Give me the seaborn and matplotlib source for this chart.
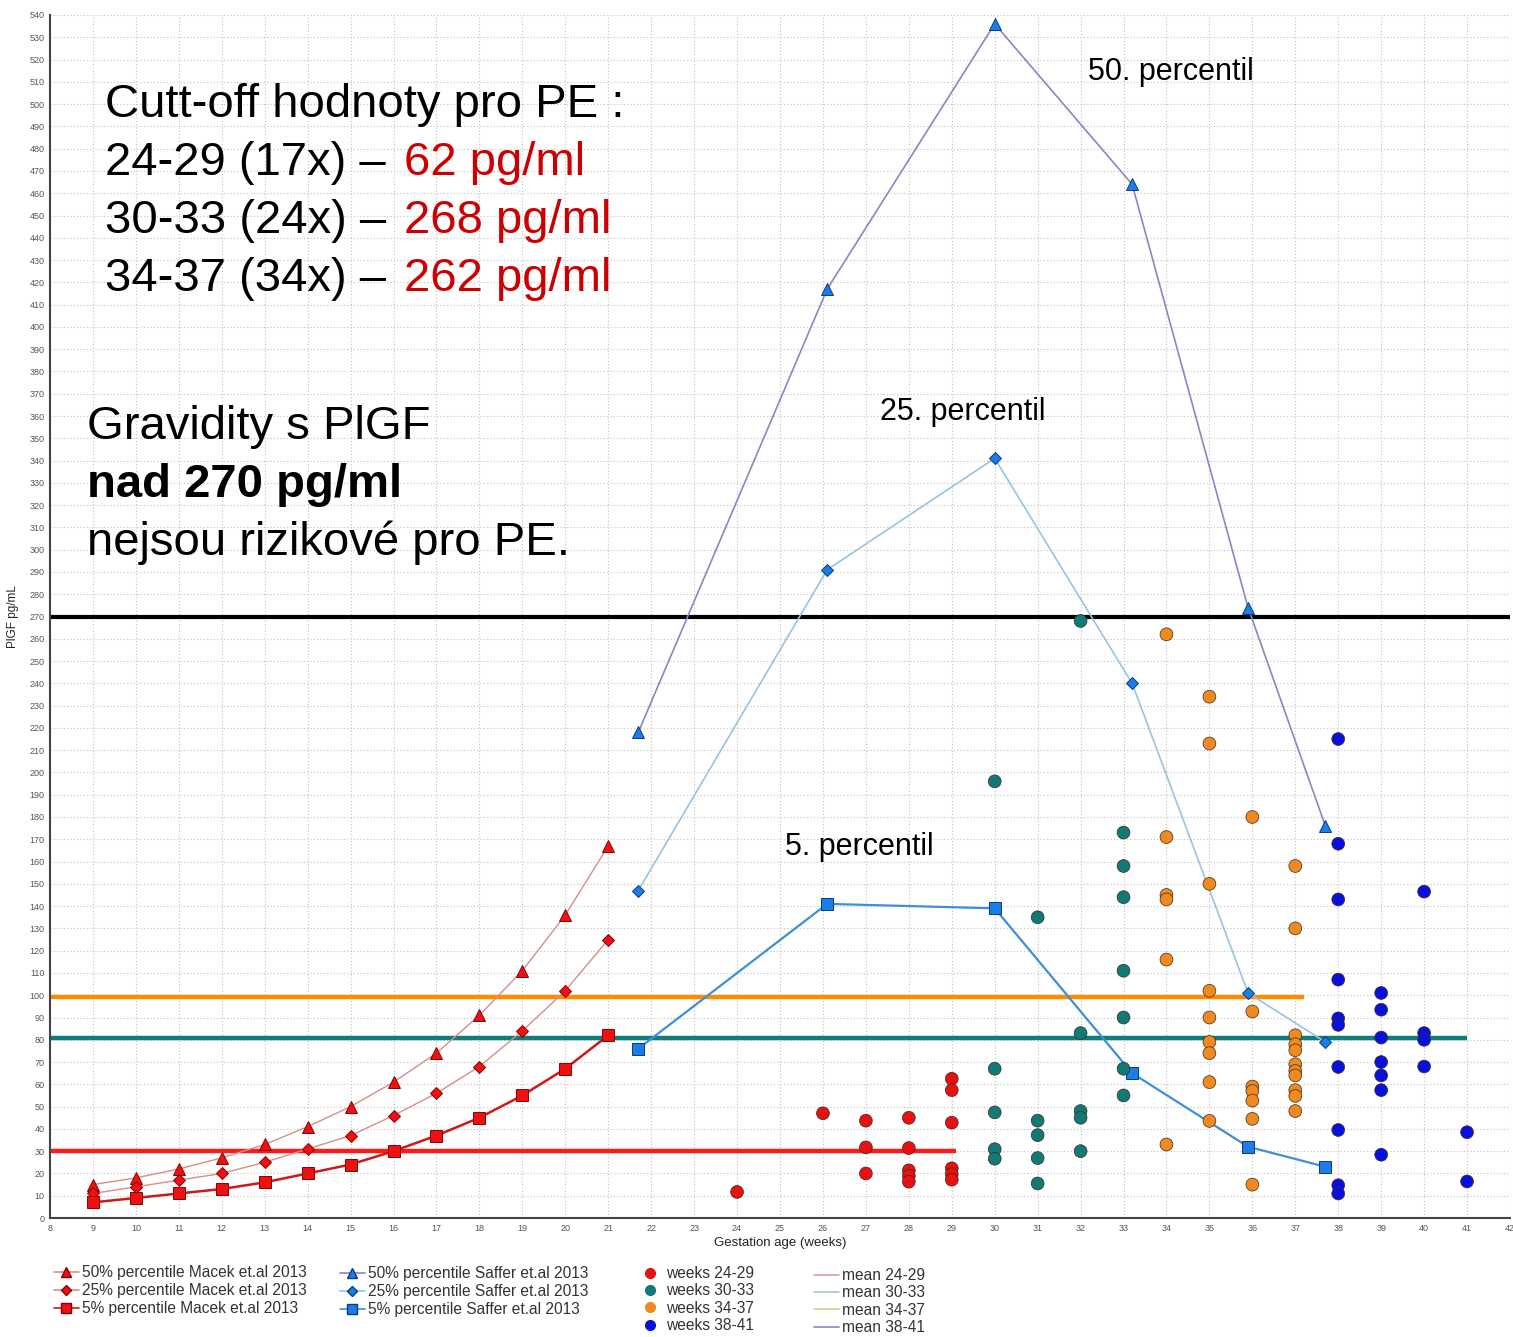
import matplotlib
matplotlib.use("Agg")
import matplotlib.pyplot as plt
from matplotlib.lines import Line2D
import seaborn as sns
import pandas as pd

# --- data -------------------------------------------------------------
macek_weeks = list(range(9, 22))
macek_p50 = [15, 18, 22, 27, 33, 41, 50, 61, 74, 91, 111, 136, 167]
macek_p25 = [11, 14, 17, 20, 25, 31, 37, 46, 56, 68, 84, 102, 125]
macek_p5 = [7, 9, 11, 13, 16, 20, 24, 30, 37, 45, 55, 67, 82]

saffer_weeks = [21.7, 26.1, 30.0, 33.2, 35.9, 37.7]
saffer_p50 = [218, 417, 536, 464, 274, 176]
saffer_p25 = [147, 291, 341, 240, 101, 79]
saffer_p5 = [76, 141, 139, 65, 32, 23]

w24_29_x = [24, 26, 27, 27, 27, 28, 28, 28, 28, 28, 29, 29, 29, 29, 29, 29]
w24_29_y = [11.7, 47, 43.7, 31.7, 20, 45, 31.4, 21.4, 18.9, 16.3, 62.5, 57.4, 42.8, 22.3, 19.7, 17.2]

w30_33_x = [30, 30, 30, 30, 30, 31, 31, 31, 31, 31, 32, 32, 32, 32, 32,
            33, 33, 33, 33, 33, 33, 33]
w30_33_y = [196, 67, 47.4, 30.9, 26.6, 135, 43.7, 37.2, 26.9, 15.5, 268, 83, 48, 45, 30,
            173, 158, 144, 111, 90, 67, 55]

w34_37_x = [34, 34, 34, 34, 34, 34,
            35, 35, 35, 35, 35, 35, 35, 35, 35,
            36, 36, 36, 36, 36, 36, 36,
            37, 37, 37, 37, 37, 37, 37, 37, 37, 37, 37]
w34_37_y = [262, 171, 145, 143, 116, 33,
            234, 213, 150, 102, 90, 79, 74, 61, 43.6,
            180, 92.7, 59, 57, 52.7, 44.5, 15,
            158, 130, 82, 78, 75.3, 69, 66, 64, 57.4, 54.8, 48]

w38_41_x = [38, 38, 38, 38, 38, 38, 38, 38, 38, 38,
            39, 39, 39, 39, 39, 39, 39,
            40, 40, 40, 40,
            41, 41]
w38_41_y = [215, 168, 143, 107, 89.6, 86.7, 67.8, 39.5, 14.7, 11,
            101, 93.5, 81, 70, 64, 57.4, 28.4,
            146.5, 83, 80, 68,
            38.5, 16.4]

mean_levels = [30, 81, 99]          # 24-29, 30-33, 34-37
mean_ends = [29.1, 41.0, 37.2]
cutoff_level = 270

W, H = 1513, 1337

sns.set_style("white")
plt.rcParams["font.family"] = ["Liberation Sans", "DejaVu Sans"]
plt.rcParams["text.color"] = "black"
plt.rcParams["axes.labelcolor"] = "#222222"

fig = plt.figure(figsize=(W / 100, H / 100), dpi=100)
ax = fig.add_axes([50 / W, 1 - 1218 / H, 1460 / W, 1203 / H])

# --- mean lines -------------------------------------------------------
mean_cols = ["#ff1a1a", "#0f7d7a", "#ff8c00"]
for lvl, end, c in zip(mean_levels, mean_ends, mean_cols):
    ax.plot([8, end], [lvl, lvl], color=c, lw=3.2, zorder=2, solid_capstyle="butt")
ax.axhline(cutoff_level, color="black", lw=3, zorder=2)

# --- percentile curves --------------------------------------------------
red_fc, red_ec = "#ee1111", "#8a0000"
blue_fc, blue_ec = "#1a7ee6", "#0a3a80"
curves = [
    (macek_weeks, macek_p50, "#d88c8c", 1.0, "^", 9, red_fc, red_ec),
    (macek_weeks, macek_p25, "#d88c8c", 1.0, "D", 6, red_fc, red_ec),
    (macek_weeks, macek_p5, "#d01818", 1.8, "s", 9, red_fc, red_ec),
    (saffer_weeks, saffer_p50, "#8a86c4", 1.2, "^", 8, blue_fc, blue_ec),
    (saffer_weeks, saffer_p25, "#96c4e2", 1.2, "D", 6.5, blue_fc, blue_ec),
    (saffer_weeks, saffer_p5, "#3d8fdc", 1.6, "s", 9, blue_fc, blue_ec),
]
for xs, ys, lc, lw, mk, ms, fc, ec in curves:
    sns.lineplot(x=xs, y=ys, ax=ax, color=lc, lw=lw, marker=mk, markersize=ms,
                 markerfacecolor=fc, markeredgecolor=ec, markeredgewidth=0.7,
                 zorder=3)

# --- patient points -----------------------------------------------------
groups = ["weeks 24-29", "weeks 30-33", "weeks 34-37", "weeks 38-41"]
pt_cols = ["#e81010", "#117a76", "#f08a1e", "#0a10dc"]
pts = pd.concat([
    pd.DataFrame({"week": w24_29_x, "plgf": w24_29_y, "group": groups[0]}),
    pd.DataFrame({"week": w30_33_x, "plgf": w30_33_y, "group": groups[1]}),
    pd.DataFrame({"week": w34_37_x, "plgf": w34_37_y, "group": groups[2]}),
    pd.DataFrame({"week": w38_41_x, "plgf": w38_41_y, "group": groups[3]}),
])
sns.scatterplot(data=pts, x="week", y="plgf", hue="group", palette=pt_cols,
                s=85, edgecolor="#3a2a20", linewidth=0.5, legend=False, ax=ax,
                zorder=4)

# --- axes -------------------------------------------------------------
ax.set_xlim(8, 42)
ax.set_ylim(0, 540)
ax.set_xticks(range(8, 43))
ax.set_yticks(range(0, 541, 10))
ax.tick_params(labelsize=6.5, labelcolor="#555555", length=2, pad=2, color="#555555")
ax.grid(True, color="#c0c0c0", lw=0.8, ls=(0, (1, 2)))
ax.set_axisbelow(True)
for s in ["top", "right"]:
    ax.spines[s].set_visible(False)
for s in ["left", "bottom"]:
    ax.spines[s].set_color("#444444")
    ax.spines[s].set_linewidth(1.5)
ax.set_xlabel("Gestation age (weeks)", fontsize=9.5)
ax.set_ylabel("PlGF pg/mL", fontsize=8.5)
ax.xaxis.set_label_coords(0.5, -0.016)
ax.yaxis.set_label_coords(-0.021, 0.5)


def ftext(x, y, s, **kw):
    fig.text(x / W, 1 - y / H, s, va="center", ha="left", **kw)


# --- annotations --------------------------------------------------------
big = 34
ftext(105, 105, "Cutt-off hodnoty pro PE :", fontsize=big)
rows = [("24-29 (17x) – ", "62 pg/ml", 163), ("30-33 (24x) – ", "268 pg/ml", 221),
        ("34-37 (34x) – ", "262 pg/ml", 279)]
for lab, val, yy in rows:
    ftext(105, yy, lab, fontsize=big)
    ftext(404, yy, val, fontsize=big, color="#cc0000")
ftext(87, 427, "Gravidity s PlGF", fontsize=big)
ftext(87, 485, "nad 270 pg/ml", fontsize=big, fontweight="bold")
ftext(87, 543, "nejsou rizikové pro PE.", fontsize=big)

ftext(1088, 72, "50. percentil", fontsize=22)
ftext(880, 412, "25. percentil", fontsize=22)
ftext(785, 847, "5. percentil", fontsize=22)

# --- legends ------------------------------------------------------------
def mk_line(c, m, ms, fc, ec):
    return Line2D([], [], color=c, lw=1.2, marker=m, markersize=ms,
                  markerfacecolor=fc, markeredgecolor=ec)

leg_kw = dict(frameon=False, fontsize=11.2, borderpad=0, borderaxespad=0,
              handletextpad=0.2, labelspacing=0.2, loc="upper left",
              handlelength=1.6, labelcolor="#333333")

h1 = [mk_line("#d88c8c", "^", 7, red_fc, red_ec), mk_line("#d88c8c", "D", 5, red_fc, red_ec),
      mk_line("#d01818", "s", 7, red_fc, red_ec)]
l1 = ["50% percentile Macek et.al 2013", "25% percentile Macek et.al 2013",
      "5% percentile Macek et.al 2013"]
fig.legend(h1, l1, bbox_to_anchor=(54 / W, 1 - 1265 / H), **leg_kw)

h2 = [mk_line("#8a86c4", "^", 7, blue_fc, blue_ec), mk_line("#96c4e2", "D", 5, blue_fc, blue_ec),
      mk_line("#3d8fdc", "s", 7, blue_fc, blue_ec)]
l2 = ["50% percentile Saffer et.al 2013", "25% percentile Saffer et.al 2013",
      "5% percentile Saffer et.al 2013"]
fig.legend(h2, l2, bbox_to_anchor=(340 / W, 1 - 1266 / H), **leg_kw)

leg_kw["labelspacing"] = 0.15
h3 = [Line2D([], [], ls="", marker="o", markersize=7, color=c) for c in pt_cols]
fig.legend(h3, groups, bbox_to_anchor=(638 / W, 1 - 1266 / H), **leg_kw)

h4 = [Line2D([], [], color=c, lw=1.2) for c in ["#d8a0a8", "#a0ccd0", "#e0c890", "#8a86c4"]]
l4 = ["mean 24-29", "mean 30-33", "mean 34-37", "mean 38-41"]
fig.legend(h4, l4, bbox_to_anchor=(814 / W, 1 - 1268 / H), **leg_kw)

fig.savefig("out.png", dpi=100)
